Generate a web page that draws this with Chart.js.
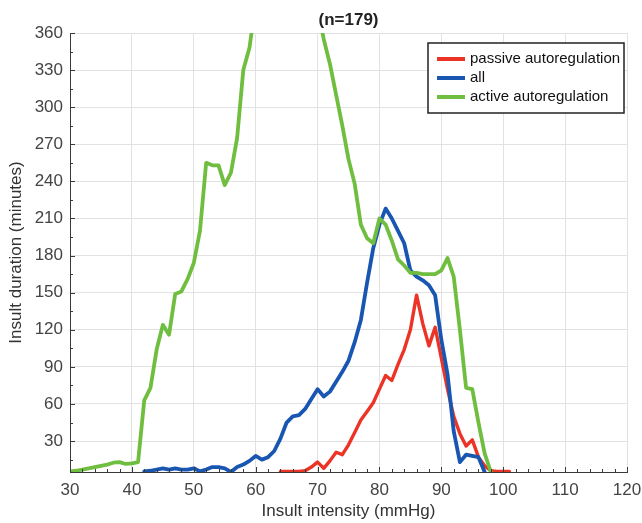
<!DOCTYPE html>
<html>
<head>
<meta charset="utf-8">
<script src="https://cdn.jsdelivr.net/npm/chart.js@4.4.1/dist/chart.umd.min.js"></script>
<style>
html,body{margin:0;padding:0;background:#fff;}
#canvasContainer{width:642px;height:523px;}
</style>
</head>
<body>
<div id="canvasContainer"><canvas id="Grafica" width="642" height="523"></canvas></div>
<script>
// insult intensity (mmHg) for each series
const passiveX = [64,65,66,67,68,69,70,71,72,73,74,75,76,77,78,79,80,81,82,83,84,85,86,87,88,89,90,91,92,93,94,95,96,97,98,99,100,101];
const allX = [42,43,44,45,46,47,48,49,50,51,52,53,54,55,56,57,58,59,60,61,62,63,64,65,66,67,68,69,70,71,72,73,74,75,76,77,78,79,80,81,82,83,84,85,86,87,88,89,90,91,92,93,94,95,96,97];
const activeX = [30,31,32,33,34,35,36,37,38,39,40,41,42,43,44,45,46,47,48,49,50,51,52,53,54,55,56,57,58,59,60,61,62,63,64,65,66,67,68,69,70,71,72,73,74,75,76,77,78,79,80,81,82,83,84,85,86,87,88,89,90,91,92,93,94,95,96,97,98];

// insult duration (minutes)
const passiveY = [5.5,5.5,5.5,5.5,6,9,13,8,14,21,19,27,37,47,54,61,72,83,79,92,104,120,148,125,107,122,97,72,50,36,26,31,17,10,6,5.5,5.5,5.5];
const allY = [5.5,6,7,8,7,8,7,7,8,5.5,7,9,9,8,5,9,11,14,18,15,17,22,32,45,50,51,56,64,72,66,70,78,86,95,110,128,158,186,205,218,210,200,190,168,163,160,156,148,112,84,38,13,19,18,17,5];
const activeY = [5.5,6,7,8,9,10,11,12.5,13,11.5,12,13,63,73,104,124,116,149,151,161,174,200,255,253,253,237,247,275,330,348,385,405,420,430,440,445,440,430,415,400,380,355,335,310,285,258,238,205,194,190,210,205,192,177,172,166,166,165,165,165,168,178,163,120,73,72,45,20,5];

const seriesNames = ['passive autoregulation','all','active autoregulation'];
const seriesColors = ['rgb(236,52,38)','rgb(24,86,178)','rgb(112,190,64)'];

const xMajor = [30,40,50,60,70,80,90,100,110,120];
const yMajor = [30,60,90,120,150,180,210,240,270,300,330,360];
const titleText = '(n=179)';

Chart.defaults.font.family = "'Liberation Sans', Arial, sans-serif";

function toPoints(xs, ys){
    return xs.map((x, i) => ({x: x, y: ys[i]}));
}

// inside tick marks, title and boxed legend
const extras = {
    id: 'extras',
    afterDraw(chart){
        const {ctx, chartArea: a, scales: {x, y}} = chart;
        ctx.save();
        ctx.strokeStyle = '#3a3a3a';
        ctx.lineWidth = 1;
        ctx.beginPath();
        for (let v = 30; v <= 120; v += 2){
            const px = Math.round(x.getPixelForValue(v)) + 0.5;
            const len = (v % 10 === 0) ? 5 : 3;
            ctx.moveTo(px, a.bottom); ctx.lineTo(px, a.bottom - len);
        }
        for (let v = 15; v <= 360; v += 15){
            const py = Math.round(y.getPixelForValue(v)) + 0.5;
            const len = (v % 30 === 0) ? 5 : 3;
            ctx.moveTo(a.left, py); ctx.lineTo(a.left + len, py);
        }
        ctx.stroke();

        ctx.fillStyle = '#222';
        ctx.font = "bold 17px 'Liberation Sans', Arial, sans-serif";
        ctx.textAlign = 'center';
        ctx.textBaseline = 'middle';
        ctx.fillText(titleText, (a.left + a.right) / 2, 20);

        const bx = 428, by = 43, bw = 196, bh = 70;
        ctx.fillStyle = '#fff';
        ctx.fillRect(bx, by, bw, bh);
        ctx.strokeStyle = '#222';
        ctx.lineWidth = 1.5;
        ctx.strokeRect(bx, by, bw, bh);
        ctx.font = "15px 'Liberation Sans', Arial, sans-serif";
        ctx.textAlign = 'left';
        chart.data.datasets.forEach((ds, i) => {
            const ry = 59 + i * 19;
            ctx.strokeStyle = ds.borderColor;
            ctx.lineWidth = 4;
            ctx.beginPath();
            ctx.moveTo(437, ry); ctx.lineTo(465, ry);
            ctx.stroke();
            ctx.fillStyle = '#111';
            ctx.fillText(ds.label, 470, ry);
        });
        ctx.restore();
    }
};

const ctx = document.getElementById('Grafica').getContext('2d');
new Chart(ctx, {
    type: 'line',
    data: {
        datasets: [
            {label: seriesNames[0], data: toPoints(passiveX, passiveY), borderColor: seriesColors[0], borderWidth: 3.4, order: 3},
            {label: seriesNames[1], data: toPoints(allX, allY), borderColor: seriesColors[1], borderWidth: 3.8, order: 2},
            {label: seriesNames[2], data: toPoints(activeX, activeY), borderColor: seriesColors[2], borderWidth: 3.8, order: 1}
        ]
    },
    options: {
        responsive: false,
        animation: false,
        elements: {point: {radius: 0}, line: {tension: 0, borderJoinStyle: 'round', borderCapStyle: 'round'}},
        layout: {padding: {top: 33, right: 15, left: 0, bottom: 0}},
        plugins: {legend: {display: false}, tooltip: {enabled: false}},
        scales: {
            x: {
                type: 'linear', min: 30, max: 120,
                afterBuildTicks(s){ s.ticks = xMajor.map(v => ({value: v})); },
                ticks: {color: '#444', font: {size: 17}, padding: 8},
                grid: {color: '#e2e2e2', drawTicks: false},
                border: {color: '#3a3a3a', width: 1},
                title: {display: true, text: 'Insult intensity (mmHg)', color: '#333', font: {size: 17}, padding: {top: 0, bottom: 1}},
                afterFit(s){ s.height = 51; s.paddingLeft = 0; s.paddingRight = 0; }
            },
            y: {
                type: 'linear', min: 5, max: 360,
                afterBuildTicks(s){ s.ticks = yMajor.map(v => ({value: v})); },
                ticks: {color: '#444', font: {size: 17}, padding: 7},
                grid: {color: '#e2e2e2', drawTicks: false},
                border: {color: '#3a3a3a', width: 1},
                title: {display: true, text: 'Insult duration (minutes)', color: '#333', font: {size: 17}, padding: {top: 6, bottom: 0}},
                afterFit(s){ s.width = 70; s.paddingTop = 0; s.paddingBottom = 0; }
            }
        }
    },
    plugins: [extras]
});
</script>
</body>
</html>
